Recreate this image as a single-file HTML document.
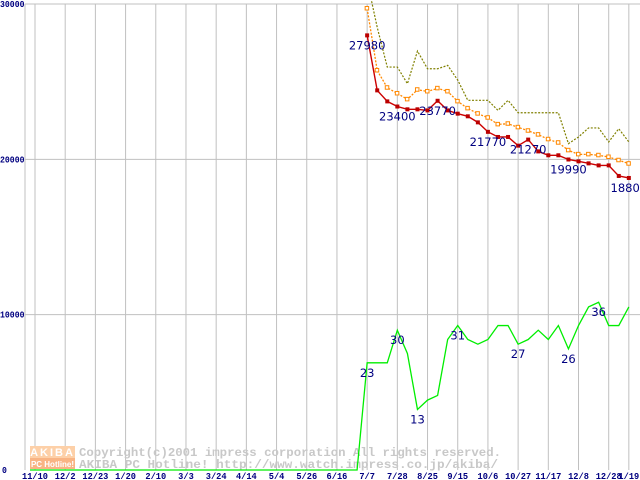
<!DOCTYPE html>
<html><head><meta charset="utf-8"><style>
html,body{margin:0;padding:0;background:#fff;width:640px;height:480px;overflow:hidden}
svg{display:block}
.ax{font-family:"Liberation Mono","DejaVu Sans Mono",monospace;font-size:9px;font-weight:bold;fill:#000080}
.dl{font-family:"DejaVu Sans","Liberation Sans",sans-serif;font-size:11.5px;fill:#000080}
.wm{font-family:"Liberation Mono","DejaVu Sans Mono",monospace;font-size:12px;font-weight:bold;fill:#c8c8c8}
</style></head><body>
<svg id="chart" width="640" height="480" xmlns="http://www.w3.org/2000/svg">
<g id="grid"></g>
<g id="wm">
<rect x="30" y="446" width="45" height="12" fill="#fdd0a8"/>
<rect x="30" y="458" width="45" height="11" fill="#f9b484"/>
<text x="52.5" y="456" text-anchor="middle" font-family="Liberation Sans,sans-serif" font-weight="bold" font-size="11" fill="#fff" letter-spacing="2">AKIBA</text>
<text x="52.5" y="467" text-anchor="middle" font-family="Liberation Sans,sans-serif" font-weight="bold" font-size="8" fill="#fff">PC Hotline!</text>
<text class="wm" x="79" y="456" textLength="422" lengthAdjust="spacingAndGlyphs">Copyright(c)2001 impress corporation All rights reserved.</text>
<text class="wm" x="79" y="468" textLength="419" lengthAdjust="spacingAndGlyphs">AKIBA PC Hotline!  http://www.watch.impress.co.jp/akiba/</text>
</g>
<g id="series"></g>
<g id="axes"></g>
</svg>
<script>
const xTickLabels=["11/10","12/2","12/23","1/20","2/10","3/3","3/24","4/14","5/4","5/26","6/16","7/7","7/28","8/25","9/15","10/6","10/27","11/17","12/8","12/28","1/19"];
const xTickWeeks=[0,3,6,9,12,15,18,21,24,27,30,33,36,39,42,45,48,51,54,57,59];
const yTicks=[0,10000,20000,30000];
const startWeek=33;
const redPrices=[27980,24440,23730,23400,23220,23220,23150,23770,23150,22940,22770,22380,21770,21440,21440,20880,21270,20510,20260,20260,19990,19870,19740,19610,19610,18930,18800];
const orangePrices=[29710,25720,24610,24240,23860,24480,24370,24570,24370,23730,23280,22940,22680,22250,22290,22060,21840,21590,21290,21070,20580,20320,20320,20260,20150,19940,19720];
const olivePrices=[31500,28500,25940,25940,24870,26970,25830,25830,26050,25100,23800,23800,23800,23150,23800,23000,23000,23000,23000,23000,21010,21440,22020,22020,21120,21970,21120];
const shopCounts=[23,23,23,30,25,13,15,16,28,31,28,27,28,31,31,27,28,30,28,31,26,31,35,36,31,31,35];
const redLabelIdx=[0,3,7,12,16,20,26];
const greenLabelIdx=[0,3,5,9,15,20,23];
const countScale=300;

const NS="http://www.w3.org/2000/svg";
const X0=35,WK=10.065,Y0=470,YT=4,L=25,R=640;
const xs=w=>X0+w*WK;
const ys=v=>Y0-(v/30000)*(Y0-YT);
function mk(t,a,p){const e=document.createElementNS(NS,t);for(const k in a)e.setAttribute(k,a[k]);p.appendChild(e);return e;}
const grid=document.getElementById('grid'),ser=document.getElementById('series'),axes=document.getElementById('axes');

xTickWeeks.forEach((w,i)=>{
  const l=mk('line',{x1:xs(w),x2:xs(w),y1:YT,y2:Y0,stroke:'#c0c0c0','stroke-width':1},grid);
  
  
  const s=xTickLabels[i];
  const t=mk('text',{x:xs(w),y:479,'text-anchor':'middle',class:'ax',textLength:s.length*5.2,lengthAdjust:'spacingAndGlyphs'},axes);
  t.textContent=s;
  
  
});
const lb=mk('line',{x1:L,x2:L,y1:YT,y2:Y0,stroke:'#c0c0c0'},grid);


yTicks.forEach(v=>{
  if(v>0){const l=mk('line',{x1:L,x2:R,y1:ys(v),y2:ys(v),stroke:'#c0c0c0','stroke-width':1},grid);
  
  }
  const s=String(v);
  const t=mk('text',{x:v===0?2:0,y:ys(v)+3,class:'ax',textLength:s.length*4.9,lengthAdjust:'spacingAndGlyphs'},axes);
  t.textContent=s;
  
  
});

function pts(arr,scale){return arr.map((v,i)=>[xs(startWeek+i),ys(v*scale)]);}
const gp=[[xs(0)-5,Y0],[xs(startWeek-1),Y0]].concat(pts(shopCounts,countScale));
const g=mk('polyline',{points:gp.map(p=>p.join(',')).join(' '),fill:'none',stroke:'#00ee00','stroke-width':1.3},ser);


const op=pts(olivePrices,1);
const o=mk('polyline',{points:op.map(p=>p.join(',')).join(' '),fill:'none',stroke:'#808000','stroke-width':1.2,'stroke-dasharray':'2,1.5'},ser);


const orp=pts(orangePrices,1);
const or=mk('polyline',{points:orp.map(p=>p.join(',')).join(' '),fill:'none',stroke:'#ff8800','stroke-width':1.3,'stroke-dasharray':'2,1.5'},ser);


orp.forEach(p=>{const r=mk('rect',{x:p[0]-2,y:p[1]-2,width:3.5,height:3.5,fill:'#fff',stroke:'#ff8800','stroke-width':1},ser);

});
const rp=pts(redPrices,1);
const rl=mk('polyline',{points:rp.map(p=>p.join(',')).join(' '),fill:'none',stroke:'#cc0000','stroke-width':1.4},ser);


rp.forEach(p=>{const r=mk('rect',{x:p[0]-2,y:p[1]-2,width:4,height:4,fill:'#bb0000'},ser);

});
redLabelIdx.forEach(i=>{const t=mk('text',{x:rp[i][0],y:rp[i][1]+14,'text-anchor':'middle',class:'dl'},ser);
t.textContent=String(redPrices[i]);

});
greenLabelIdx.forEach(i=>{const p=pts(shopCounts,countScale)[i];const t=mk('text',{x:p[0],y:p[1]+14,'text-anchor':'middle',class:'dl'},ser);
t.textContent=String(shopCounts[i]);

});
</script>
</body></html>
